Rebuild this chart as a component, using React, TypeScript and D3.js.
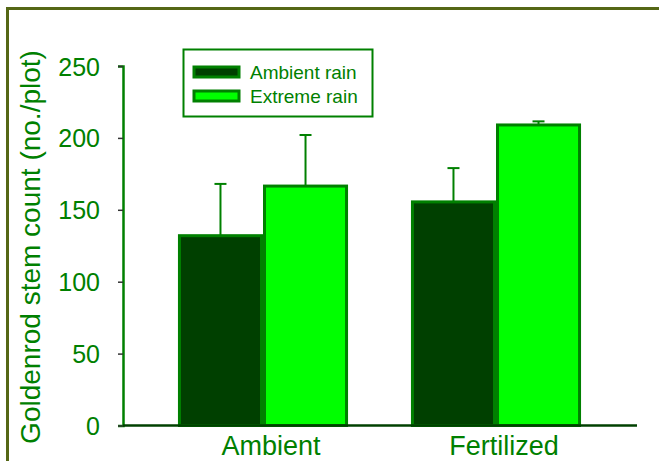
import React, { useEffect, useRef } from 'react';
import * as d3 from 'd3';

const groups = ['Ambient', 'Fertilized'];
const series = ['Ambient rain', 'Extreme rain'];
const means = [
  [132, 166.5],
  [155.5, 209],
];
const errors = [
  [36, 35.5],
  [23.5, 2.5],
];
const yTicks = [0, 50, 100, 150, 200, 250];
const fills = ['#004000', '#00ff00'];

const W = 659;
const H = 461;

export default function App() {
  const svgRef = useRef<SVGSVGElement>(null);

  useEffect(() => {
    if (!svgRef.current) return;
    const svg = d3.select(svgRef.current);
    svg.selectAll('*').remove();

    const green = '#008000';
    const font = 'Liberation Sans, Arial, sans-serif';

    // outer frame
    svg.append('rect')
      .attr('x', 7.5).attr('y', 8.5)
      .attr('width', W + 20).attr('height', H + 20)
      .attr('fill', 'white')
      .attr('stroke', '#556716').attr('stroke-width', 3);

    const y = d3.scaleLinear().domain([0, 250]).range([425.5, 66]);
    const x0 = d3.scaleBand<string>().domain(groups).range([146.5, 612.5])
      .paddingInner(0.27).paddingOuter(0.135);
    const x1 = d3.scaleBand<string>().domain(series).range([0, x0.bandwidth()]);

    const g = svg.append('g');

    // bars + error bars
    groups.forEach((grp, gi) => {
      series.forEach((s, si) => {
        const bx = (x0(grp) ?? 0) + (x1(s) ?? 0);
        const bw = x1.bandwidth();
        const v = means[gi][si];
        const e = errors[gi][si];
        const cx = bx + bw / 2;
        g.append('line')
          .attr('x1', cx).attr('x2', cx)
          .attr('y1', y(v)).attr('y2', y(v + e))
          .attr('stroke', green).attr('stroke-width', 2);
        g.append('line')
          .attr('x1', cx - 6).attr('x2', cx + 6)
          .attr('y1', y(v + e)).attr('y2', y(v + e))
          .attr('stroke', green).attr('stroke-width', 2);
        g.append('rect')
          .attr('x', bx + 1.5).attr('y', y(v))
          .attr('width', bw - 3).attr('height', y(0) - y(v))
          .attr('fill', fills[si])
          .attr('stroke', green).attr('stroke-width', 3);
      });
    });

    // y axis
    const yAxis = g.append('g')
      .attr('transform', 'translate(123,0)')
      .call(d3.axisLeft(y).tickValues(yTicks).tickSize(5).tickPadding(18));
    yAxis.select('.domain').attr('stroke', green).attr('stroke-width', 2.5);
    yAxis.selectAll('.tick line').attr('stroke', '#333').attr('stroke-width', 1.5);
    yAxis.selectAll('.tick text')
      .attr('fill', green).style('font-family', font).style('font-size', '25px')
      .attr('dy', '0.36em');

    // x axis
    g.append('line')
      .attr('x1', 123).attr('x2', 637)
      .attr('y1', y(0)).attr('y2', y(0))
      .attr('stroke', '#004000').attr('stroke-width', 2.5);
    groups.forEach((grp) => {
      g.append('text')
        .attr('x', (x0(grp) ?? 0) + x0.bandwidth() / 2 + 8)
        .attr('y', 455)
        .attr('text-anchor', 'middle')
        .attr('fill', green)
        .style('font-family', font).style('font-size', '27px')
        .text(grp);
    });

    // y label
    g.append('text')
      .attr('transform', 'translate(40,247) rotate(-90)')
      .attr('text-anchor', 'middle')
      .attr('fill', green)
      .style('font-family', font).style('font-size', '28px')
      .text('Goldenrod stem count (no./plot)');

    // legend
    const lg = g.append('g');
    lg.append('rect')
      .attr('x', 183.5).attr('y', 49.5).attr('width', 189).attr('height', 67)
      .attr('fill', 'white').attr('stroke', green).attr('stroke-width', 2);
    series.forEach((s, i) => {
      const cy = 72 + i * 24;
      lg.append('rect')
        .attr('x', 194).attr('y', cy - 5).attr('width', 45).attr('height', 10)
        .attr('fill', fills[i]).attr('stroke', green).attr('stroke-width', 3);
      lg.append('text')
        .attr('x', 250).attr('y', cy).attr('dy', '0.35em')
        .attr('fill', green)
        .style('font-family', font).style('font-size', '19px')
        .text(s);
    });
  }, []);

  return (
    <svg ref={svgRef} width={W} height={H}
      style={{ position: 'absolute', left: 0, top: 0, background: 'white' }} />
  );
}
